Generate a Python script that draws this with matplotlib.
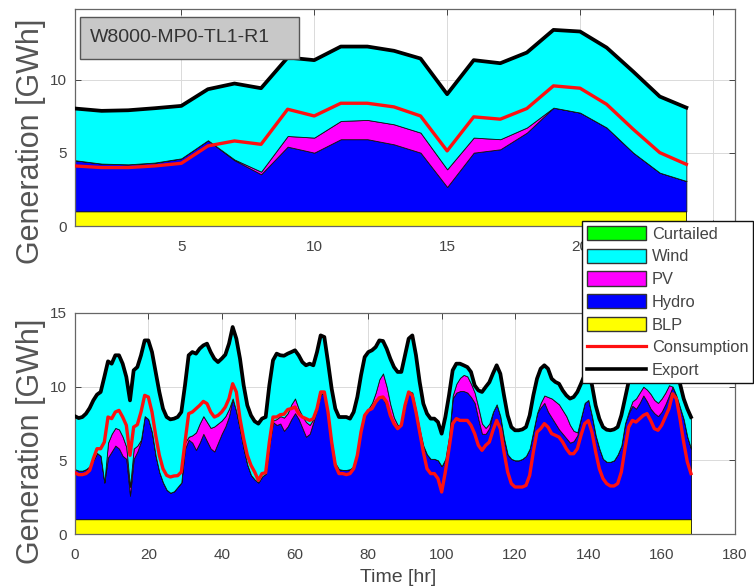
import numpy as np
import matplotlib
matplotlib.use("Agg")
import matplotlib.pyplot as plt
from matplotlib.patches import Patch, Rectangle
from matplotlib.lines import Line2D

plt.rcParams['font.family'] = ['Liberation Sans', 'DejaVu Sans']

# ---------------- data: top panel (24 h) ----------------
top_hours = list(range(1, 25))
top_blp = [1.0] * 24
top_hydro_top = [4.5, 4.27, 4.22, 4.34, 4.63, 5.87, 4.5, 3.54, 5.43, 5.02, 5.94, 5.94,
                 5.59, 5.02, 2.67, 5.02, 5.25, 6.39, 8.1, 7.76, 6.74, 5.02, 3.65, 3.08]
top_pv_top = [4.5, 4.27, 4.22, 4.34, 4.63, 5.87, 4.55, 3.72, 6.16, 6.05, 7.19, 7.26,
              6.96, 6.39, 3.88, 6.05, 5.94, 6.74, 8.1, 7.76, 6.74, 5.02, 3.65, 3.08]
top_export = [8.04, 7.88, 7.92, 8.06, 8.22, 9.36, 9.75, 9.43, 11.53, 11.35, 12.28, 12.28,
              11.99, 11.46, 9.02, 11.35, 11.14, 11.87, 13.42, 13.31, 12.21, 10.57, 8.86, 8.10]
top_consumption = [4.11, 4.0, 4.0, 4.11, 4.29, 5.48, 5.82, 5.59, 7.99, 7.53, 8.40, 8.40,
                   8.15, 7.53, 5.14, 7.47, 7.31, 8.04, 9.59, 9.43, 8.33, 6.62, 5.02, 4.22]
top_xticks = [5, 10, 15, 20, 25]
top_xticklabels = ['5', '10', '15', '20', '']   # 25 is hidden behind the legend

# ---------------- data: bottom panel (168 h) ----------------
bot_hours = list(range(0, 169))
bot_blp = [1.0] * 169
bot_hydro_top = [
    4.4, 4.3, 4.3, 4.4, 4.6, 5.0, 5.5, 5.3, 3.5,
    5.2, 5.6, 6.0, 5.8, 5.3, 5.1, 2.6, 5.1, 5.6, 6.3,
    8.0, 7.8, 6.9, 5.3, 4.2, 3.5, 3.0, 2.8, 2.9, 3.2, 3.5,
    5.8, 6.4, 6.2, 5.7, 6.2, 6.8, 6.3, 5.8, 5.6, 6.2, 6.8, 7.3, 8.0, 9.2,
    8.3, 7.1, 5.8, 4.7, 4.0, 3.7, 3.5, 3.9, 4.1,
    6.0, 7.6, 7.4, 7.5, 7.0, 7.3, 7.8, 8.2, 7.8, 7.2, 6.6, 6.8, 7.6,
    8.5, 9.5, 9.6, 8.2, 6.3, 4.8, 4.4, 4.35, 4.35, 4.4, 4.6, 5.5, 7.0,
    8.1, 8.4, 8.6, 9.0, 9.3, 9.2, 8.7, 7.9, 7.4, 7.2,
    7.4, 8.7, 9.7, 9.6, 8.4, 7.1, 6.0, 5.4, 5.1, 5.1, 5.0, 4.6, 5.1, 6.6,
    9.2, 9.6, 9.7, 9.7, 9.6, 9.3, 8.9, 7.8, 6.8, 6.8, 7.2,
    8.3, 8.8, 8.0, 6.5, 5.4, 5.1, 5.0, 5.0, 5.1, 5.3, 5.8, 7.0, 8.2,
    8.6, 8.9, 8.3, 7.9, 7.5, 7.1, 6.8, 6.5, 6.2, 6.3, 6.7,
    7.9, 8.9, 9.1, 8.0, 6.7, 5.8, 5.1, 4.9, 4.9, 5.0, 5.4, 6.0, 7.5,
    8.2, 8.7, 8.5, 8.9, 9.4, 9.0, 8.5, 8.2, 8.0, 8.3, 8.8, 9.4,
    10.0, 9.4, 8.6, 7.8, 6.6, 5.8]
bot_pv_top = [
    4.4, 4.3, 4.3, 4.4, 4.6, 5.0, 5.5, 5.3, 3.5,
    6.2, 6.8, 7.2, 7.1, 6.6, 5.9, 3.2, 5.8, 6.0, 6.4,
    8.0, 7.8, 6.9, 5.3, 4.2, 3.5, 3.0, 2.8, 2.9, 3.2, 3.5,
    6.2, 6.6, 6.7, 6.9, 7.5, 8.0, 7.6, 7.2, 7.3, 7.5, 7.7, 8.0, 8.5, 9.2,
    8.3, 7.1, 5.8, 4.7, 4.0, 3.7, 3.5, 3.9, 4.1,
    6.0, 7.7, 7.8, 8.0, 7.9, 8.2, 8.8, 9.2, 8.5, 8.0, 7.6, 7.4, 7.8,
    8.5, 9.5, 9.6, 8.2, 6.3, 4.8, 4.4, 4.35, 4.35, 4.4, 4.6, 5.5, 7.0,
    8.2, 8.5, 8.9, 9.6, 10.5, 10.9, 10.0, 8.8, 7.9, 7.4,
    7.4, 8.7, 9.7, 9.6, 8.4, 7.1, 6.0, 5.4, 5.1, 5.1, 5.0, 4.6, 5.1, 6.6,
    9.4, 10.2, 10.6, 10.8, 10.7, 10.2, 9.6, 8.6, 7.5, 7.2, 7.5,
    8.3, 8.8, 8.0, 6.5, 5.4, 5.1, 5.0, 5.0, 5.1, 5.3, 5.8, 7.0, 8.2,
    8.9, 9.4, 9.3, 9.2, 9.0, 8.8, 8.4, 8.0, 7.4, 7.0, 6.9,
    7.9, 8.9, 9.1, 8.0, 6.7, 5.8, 5.1, 4.9, 4.9, 5.0, 5.4, 6.0, 7.5,
    8.3, 9.0, 9.2, 9.6, 10.0, 9.8, 9.5, 9.1, 8.9, 9.2, 9.6, 10.1,
    10.0, 9.4, 8.6, 7.8, 6.6, 5.8]
bot_export = [
    7.99, 7.87, 7.94, 8.17, 8.55, 9.07, 9.46, 9.64, 10.66, 11.72,
    11.56, 12.13, 12.13, 11.56, 10.66, 9.07, 11.11, 11.33, 12.13, 13.14,
    13.14, 12.35, 11.0, 9.64, 8.51, 7.94, 7.78, 7.83, 7.94, 8.28,
    10.1, 12.13, 12.35, 12.24, 12.58, 12.8, 12.92, 12.35, 11.9, 11.67,
    11.9, 12.17, 12.92, 14.05, 13.26, 11.9, 10.09, 8.73, 8.05, 7.65,
    7.49, 7.83, 7.94, 10.09, 11.79, 12.24, 12.13, 12.1, 12.24, 12.35,
    12.47, 12.13, 11.67, 11.45, 11.56, 11.45, 12.35, 13.48, 13.37, 11.67,
    9.86, 8.51, 7.94, 7.94, 7.94, 7.83, 8.28, 9.3, 10.77, 12.01,
    12.35, 12.47, 12.69, 13.14, 13.1, 12.58, 11.9, 11.33, 11.0, 11.0,
    12.13, 13.26, 13.48, 12.13, 10.32, 8.85, 8.17, 7.83, 7.83, 7.6,
    6.81, 7.94, 9.41, 11.11, 11.56, 11.56, 11.45, 11.33, 11.0, 10.09,
    9.75, 9.64, 9.98, 10.3, 10.9, 11.45, 10.88, 9.41, 8.05, 7.26,
    7.04, 7.04, 7.1, 7.26, 8.05, 9.41, 10.54, 11.22, 11.45, 11.22,
    10.54, 10.32, 10.2, 9.75, 9.41, 9.19, 9.3, 9.64, 10.2, 10.8,
    11.0, 10.1, 8.73, 7.83, 7.26, 7.08, 7.04, 7.1, 7.26, 8.05,
    9.19, 10.3, 11.5, 12.0, 12.1, 12.3, 12.6, 12.3, 11.8, 11.4,
    11.3, 11.6, 12.3, 13.2, 11.6, 10.2, 9.19, 8.5, 7.94]
bot_consumption = [
    4.16, 4.03, 4.03, 4.1, 4.32, 5.11, 5.79, 5.79, 6.24, 7.94,
    7.83, 8.28, 8.39, 7.94, 7.38, 5.34, 7.26, 7.42, 8.28, 9.41,
    9.3, 8.28, 6.7, 5.34, 4.43, 3.98, 3.87, 3.94, 3.96, 4.21,
    6.24, 8.17, 8.28, 8.51, 8.73, 9.0, 8.85, 8.28, 7.94, 8.05,
    8.28, 8.62, 9.19, 10.2, 9.64, 7.83, 6.47, 5.34, 4.66, 4.21,
    3.64, 4.1, 4.16, 6.24, 7.94, 7.94, 8.1, 8.13, 8.45, 8.51,
    8.62, 8.17, 7.94, 7.83, 7.71, 7.83, 8.51, 9.64, 9.64, 8.28,
    6.24, 4.66, 4.1, 4.1, 4.03, 4.1, 4.43, 5.34, 6.92, 8.05,
    8.39, 8.51, 8.96, 9.25, 9.3, 8.96, 8.05, 7.49, 7.15, 7.38,
    8.73, 9.64, 9.41, 8.28, 6.92, 5.57, 4.43, 4.1, 4.1, 3.76,
    2.85, 4.21, 5.79, 7.49, 7.83, 7.71, 7.71, 7.71, 7.38, 6.81,
    6.02, 5.68, 6.02, 6.24, 7.04, 7.71, 7.15, 5.57, 4.21, 3.42,
    3.19, 3.19, 3.19, 3.3, 3.98, 5.57, 6.92, 7.15, 7.49, 7.26,
    6.81, 6.7, 6.58, 6.24, 5.79, 5.45, 5.45, 5.79, 6.7, 7.49,
    7.7, 6.9, 5.57, 4.43, 3.76, 3.42, 3.26, 3.26, 3.42, 4.21,
    5.79, 7.26, 7.71, 7.6, 7.83, 8.05, 8.17, 7.71, 7.15, 7.04,
    7.38, 7.94, 8.51, 9.52, 9.19, 7.83, 6.24, 4.89, 4.1]

series_labels = ['Curtailed', 'Wind', 'PV', 'Hydro', 'BLP', 'Consumption', 'Export']
c_curt, c_wind, c_pv, c_hydro, c_blp = '#00FF00', '#00FFFF', '#FF00FF', '#0000FF', '#FFFF00'
c_cons, c_exp = '#FF1010', '#000000'
panel_label = 'W8000-MP0-TL1-R1'

fig = plt.figure(figsize=(7.54, 5.88), dpi=100)
W, H = 754.0, 588.0
ax1 = fig.add_axes([75 / W, 1 - 226 / H, 660 / W, 217 / H])
ax2 = fig.add_axes([75 / W, 54 / H, 660 / W, 221 / H])


def draw(ax, x, blp, hyd, pv, exp, cons, label_y):
    x = np.asarray(x, float)
    blp = np.asarray(blp); hyd = np.asarray(hyd); pv = np.asarray(pv); exp = np.asarray(exp)
    kw = dict(edgecolor='#111111', linewidth=0.6, zorder=2)
    ax.fill_between(x, 0, blp, facecolor=c_blp, **kw)
    ax.fill_between(x, blp, hyd, facecolor=c_hydro, **kw)
    ax.fill_between(x, hyd, pv, facecolor=c_pv, **kw)
    ax.fill_between(x, pv, exp, facecolor=c_wind, **kw)
    ax.plot(x, cons, color=c_cons, lw=2.4, zorder=4, solid_joinstyle='round')
    ax.plot(x, exp, color=c_exp, lw=2.7, zorder=5, solid_joinstyle='round')
    ax.set_axisbelow(True)
    ax.grid(True, color='#dadada', lw=0.7)
    ax.tick_params(direction='in', top=True, right=True, length=4,
                   labelsize=11, colors='#444444', width=0.7)
    ax.tick_params(axis='x', pad=10)
    ax.tick_params(axis='y', pad=6)
    for s in ax.spines.values():
        s.set_color('#666666')
        s.set_linewidth(0.9)
    ax.set_ylabel('Generation [GWh]', fontsize=22, color='#555555',
                  ha='center', va='center')
    ax.yaxis.set_label_coords(-0.0667, label_y)


draw(ax1, top_hours, top_blp, top_hydro_top, top_pv_top, top_export, top_consumption,
     (226 - 141) / 217)
ax1.set_xlim(1, 25.83)
ax1.set_ylim(0, 14.85)
ax1.set_xticks(top_xticks)
ax1.set_xticklabels(top_xticklabels)
ax1.set_yticks([0, 5, 10])

draw(ax2, bot_hours, bot_blp, bot_hydro_top, bot_pv_top, bot_export, bot_consumption,
     (534 - 441) / 221)
ax2.set_xlim(0, 180)
ax2.set_ylim(0, 15)
ax2.set_xticks(range(0, 181, 20))
ax2.set_yticks([0, 5, 10, 15])
ax2.set_xlabel('Time [hr]', fontsize=14, color='#444444')
ax2.xaxis.set_label_coords(0.49, -0.16)

# panel label box
ax1.add_patch(Rectangle((0.008, 0.771), 0.331, 0.194, transform=ax1.transAxes,
                        facecolor='#c8c8c8', edgecolor='#555555', lw=1.0, zorder=10))
ax1.text(0.0227, 0.868, panel_label, transform=ax1.transAxes, ha='left', va='center',
         fontsize=14, color='#333333', zorder=11)

handles = [Patch(facecolor=c_curt, edgecolor='#333333'),
           Patch(facecolor=c_wind, edgecolor='#333333'),
           Patch(facecolor=c_pv, edgecolor='#333333'),
           Patch(facecolor=c_hydro, edgecolor='#333333'),
           Patch(facecolor=c_blp, edgecolor='#333333'),
           Line2D([], [], color=c_cons, lw=2.3),
           Line2D([], [], color=c_exp, lw=2.6)]
leg = fig.legend(handles, series_labels, loc='upper left',
                 bbox_to_anchor=(582 / W, 1 - 221 / H), fontsize=11.8,
                 handlelength=3.6, handleheight=0.95, labelspacing=0.43,
                 handletextpad=0.35, borderpad=0.3, borderaxespad=0,
                 fancybox=False, framealpha=1, edgecolor='#111111')
leg.get_frame().set_linewidth(1.0)
for t in leg.get_texts():
    t.set_color('#444444')

fig.savefig('out.png', dpi=100)
